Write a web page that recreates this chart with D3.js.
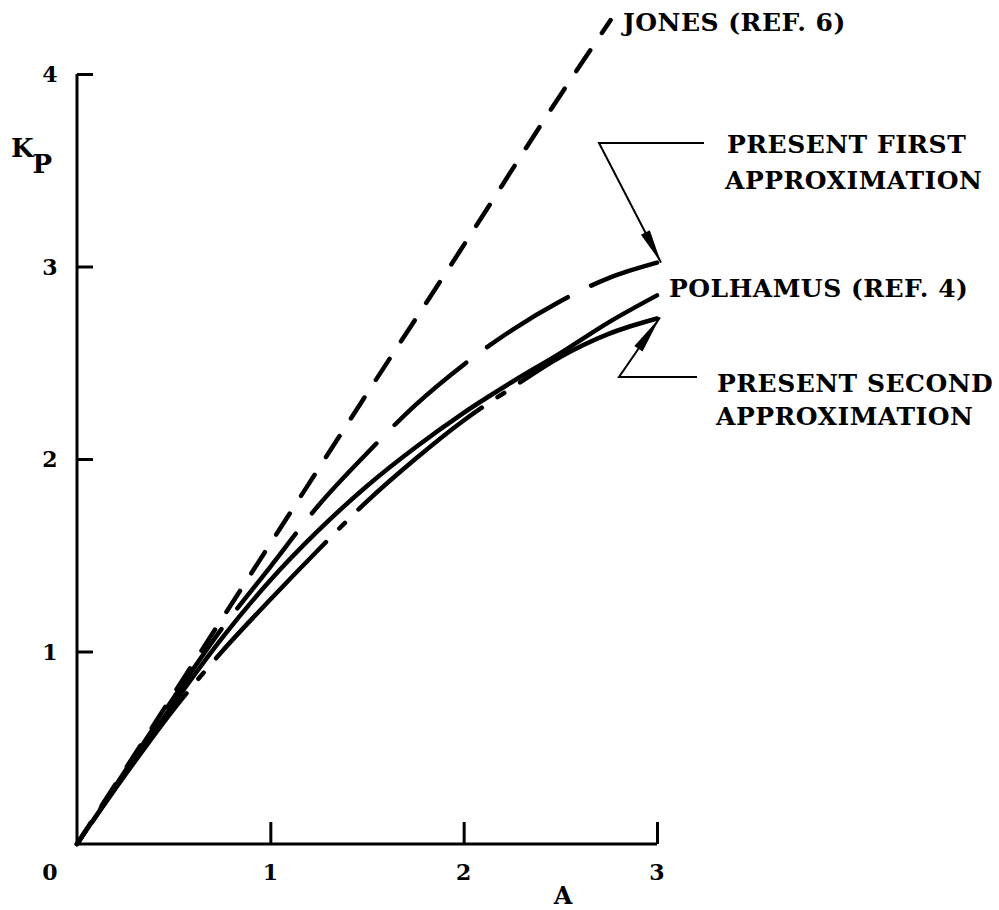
<!DOCTYPE html>
<html>
<head>
<meta charset="utf-8">
<script src="https://cdn.jsdelivr.net/npm/d3@7"></script>
<style>
  html, body { margin: 0; padding: 0; background: #fff; }
  svg text { font-family: "DejaVu Serif", serif; font-weight: bold; fill: #000; }
</style>
</head>
<body>
<svg id="chart" width="999" height="910"></svg>
<script>
// Pressure lift factor K_P against aspect ratio A
const aspectRatio = [0, 0.25, 0.5, 0.75, 1.0, 1.25, 1.5, 1.75, 2.0, 2.25, 2.5, 2.75, 3.0];
const firstApprox  = [0, 0.38, 0.76, 1.12, 1.44, 1.76, 2.03, 2.28, 2.49, 2.67, 2.82, 2.94, 3.02];
const polhamus     = [0, 0.37, 0.73, 1.07, 1.37, 1.63, 1.86, 2.06, 2.24, 2.40, 2.55, 2.71, 2.85];
const secondApprox = [0, 0.36, 0.70, 1.00, 1.27, 1.53, 1.78, 2.00, 2.20, 2.37, 2.53, 2.65, 2.73];
// Jones slender-wing line
const jonesA = [0, 0.5, 1.0, 1.5, 2.0, 2.5, 2.76];
const jonesK = [0, 0.78, 1.56, 2.34, 3.11, 3.89, 4.28];

const xTicks = [0, 1, 2, 3];
const yTicks = [1, 2, 3, 4];

const svg = d3.select("#chart");
const x = d3.scaleLinear().domain([0, 3]).range([77, 657]);
const y = d3.scaleLinear().domain([0, 4]).range([844, 74]);

const line = d3.line().x(d => x(d[0])).y(d => y(d[1])).curve(d3.curveMonotoneX);
const pairs = (xs, ys) => xs.map((v, i) => [v, ys[i]]);

// axes: y axis with inward ticks, x axis with upward ticks
const yAxis = svg.append("g").attr("transform", `translate(${x(0)},0)`)
  .call(d3.axisRight(y).tickValues(yTicks).tickSize(16).tickFormat(""));
const xAxis = svg.append("g").attr("transform", `translate(0,${y(0)})`)
  .call(d3.axisTop(x).tickValues([1, 2, 3]).tickSize(22).tickFormat(""));
[yAxis, xAxis].forEach(g => {
  g.select(".domain").remove();
  g.selectAll(".tick line").attr("stroke", "#000").attr("stroke-width", 3);
});
svg.append("path")
  .attr("d", `M${x(0)},${y(4)}V${y(0)}H${x(3)}`)
  .attr("fill", "none").attr("stroke", "#000").attr("stroke-width", 3);

// tick labels
svg.selectAll(".ylab").data(yTicks).enter().append("text")
  .attr("x", 50).attr("y", d => y(d) + 8).attr("text-anchor", "middle")
  .attr("font-size", 22).text(d => d);
svg.selectAll(".xlab").data(xTicks).enter().append("text")
  .attr("x", d => d === 0 ? 50 : x(d)).attr("y", 880).attr("text-anchor", "middle")
  .attr("font-size", 22).text(d => d);

// axis titles
svg.append("text").attr("x", 563).attr("y", 904).attr("text-anchor", "middle")
  .attr("font-size", 24).text("A");
const kp = svg.append("text").attr("x", 11).attr("y", 157).attr("font-size", 26);
kp.append("tspan").text("K");
kp.append("tspan").attr("dy", 16).attr("dx", -1).text("P");

// curves; dash phase is set so each pattern finishes with a dash at the A = 3 end
function drawCurve(points, dash, endDash) {
  const p = svg.append("path").attr("d", line(points))
    .attr("fill", "none").attr("stroke", "#000")
    .attr("stroke-width", 4.5).attr("stroke-linecap", "round");
  if (dash) {
    p.attr("stroke-dasharray", dash.join(","));
    if (endDash != null) {
      const period = d3.sum(dash);
      const L = p.node().getTotalLength();
      p.attr("stroke-dashoffset", (((endDash - L) % period) + period) % period);
    }
  }
  return p;
}

drawCurve(pairs(jonesA, jonesK), [25, 21], null);
drawCurve(pairs(aspectRatio, firstApprox), [95, 26], 70);
drawCurve(pairs(aspectRatio, polhamus), null, null);
drawCurve(pairs(aspectRatio, secondApprox), [160, 19, 8, 19], 152);

// leaders with arrowheads
function arrowHead(tipX, tipY, fromX, fromY, len, half) {
  const ang = Math.atan2(tipY - fromY, tipX - fromX);
  const bx = tipX - len * Math.cos(ang), by = tipY - len * Math.sin(ang);
  const nx = -Math.sin(ang) * half, ny = Math.cos(ang) * half;
  svg.append("path")
    .attr("d", `M${tipX},${tipY}L${bx + nx},${by + ny}L${bx - nx},${by - ny}Z`)
    .attr("fill", "#000");
}
function leader(elbowX, elbowY, endX, tipX, tipY, len) {
  svg.append("path")
    .attr("d", `M${endX},${elbowY}H${elbowX}L${tipX},${tipY}`)
    .attr("fill", "none").attr("stroke", "#000").attr("stroke-width", 2);
  arrowHead(tipX, tipY, elbowX, elbowY, len, 5);
}
const last = aspectRatio.length - 1;
leader(599, 143, 704, x(3) + 4, y(firstApprox[last]), 34);
leader(619, 377, 697, x(3) + 3, y(secondApprox[last]) - 1, 38);

// curve labels
const labels = [
  { t: "JONES (REF. 6)", x: 623, y: 31 },
  { t: "PRESENT FIRST", x: 727, y: 153 },
  { t: "APPROXIMATION", x: 725, y: 189 },
  { t: "POLHAMUS (REF. 4)", x: 669, y: 297 },
  { t: "PRESENT SECOND", x: 717, y: 392 },
  { t: "APPROXIMATION", x: 716, y: 425 }
];
svg.selectAll(".lab").data(labels).enter().append("text")
  .attr("class", "lab").attr("x", d => d.x).attr("y", d => d.y)
  .attr("font-size", 25).attr("letter-spacing", 0.5).text(d => d.t);
</script>
</body>
</html>
